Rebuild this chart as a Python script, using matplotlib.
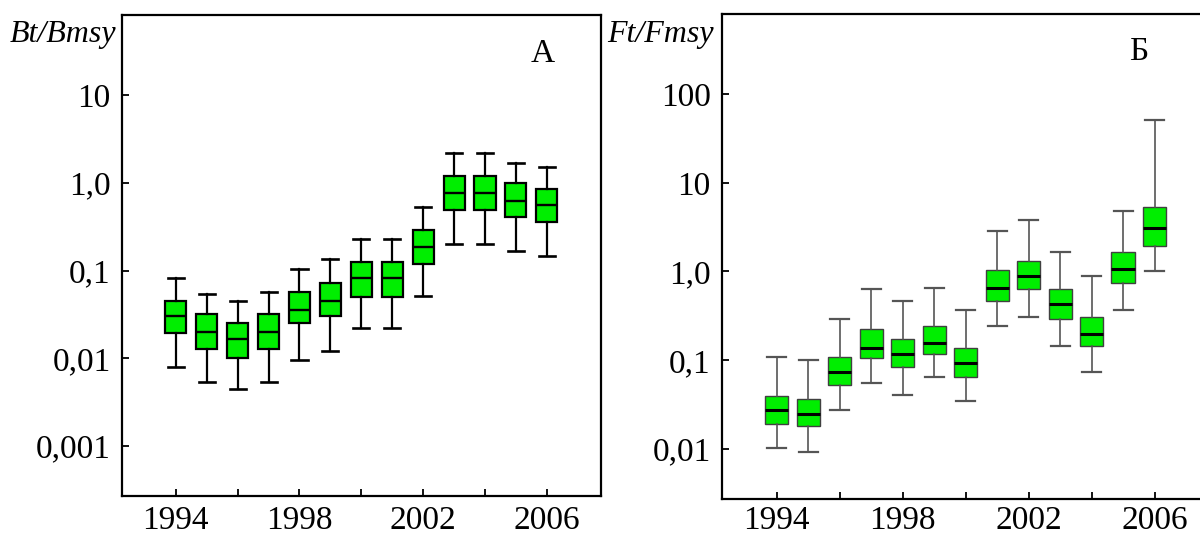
import matplotlib
matplotlib.use("Agg")
import matplotlib.pyplot as plt
from matplotlib.ticker import FixedLocator, FixedFormatter, NullLocator

plt.rcParams["font.family"] = ["Liberation Serif", "DejaVu Serif"]

years = [1994, 1995, 1996, 1997, 1998, 1999, 2000, 2001, 2002, 2003, 2004, 2005, 2006]
year_ticks = [1994, 1996, 1998, 2000, 2002, 2004, 2006]
year_labels = ["1994", "", "1998", "", "2002", "", "2006"]

# panel A: Bt/Bmsy
b_whislo = [0.008, 0.0053, 0.0045, 0.0053, 0.0096, 0.0122, 0.0223, 0.0223, 0.0515, 0.20, 0.20, 0.168, 0.147]
b_q1 = [0.0195, 0.0128, 0.010, 0.0128, 0.0254, 0.030, 0.050, 0.050, 0.119, 0.49, 0.49, 0.41, 0.36]
b_med = [0.030, 0.020, 0.0167, 0.020, 0.0357, 0.045, 0.083, 0.083, 0.187, 0.77, 0.77, 0.62, 0.56]
b_q3 = [0.045, 0.032, 0.0254, 0.032, 0.057, 0.072, 0.126, 0.126, 0.29, 1.2, 1.2, 1.0, 0.855]
b_whishi = [0.083, 0.054, 0.045, 0.057, 0.105, 0.136, 0.23, 0.23, 0.53, 2.2, 2.2, 1.69, 1.52]
b_ticks = [0.001, 0.01, 0.1, 1.0, 10]
b_tick_labels = ["0,001", "0,01", "0,1", "1,0", "10"]

# panel Б: Ft/Fmsy
f_whislo = [0.0103, 0.0093, 0.0278, 0.056, 0.041, 0.064, 0.035, 0.246, 0.31, 0.146, 0.0745, 0.372, 1.0]
f_q1 = [0.0193, 0.0183, 0.052, 0.105, 0.083, 0.119, 0.065, 0.47, 0.63, 0.295, 0.146, 0.75, 1.96]
f_med = [0.0278, 0.025, 0.0745, 0.139, 0.119, 0.158, 0.094, 0.66, 0.90, 0.425, 0.20, 1.08, 3.06]
f_q3 = [0.04, 0.037, 0.11, 0.222, 0.175, 0.246, 0.139, 1.05, 1.33, 0.63, 0.31, 1.68, 5.4]
f_whishi = [0.11, 0.10, 0.295, 0.63, 0.47, 0.66, 0.372, 2.83, 3.76, 1.68, 0.90, 4.75, 50.5]
f_ticks = [0.01, 0.1, 1.0, 10, 100]
f_tick_labels = ["0,01", "0,1", "1,0", "10", "100"]

GREEN = "#00ee00"


def make_stats(lo, q1, med, q3, hi):
    return [
        {"whislo": a, "q1": b, "med": c, "q3": d, "whishi": e, "fliers": []}
        for a, b, c, d, e in zip(lo, q1, med, q3, hi)
    ]


def style_axes(ax, ticks, labels, ylim, xpad):
    ax.set_yscale("log")
    ax.set_ylim(*ylim)
    ax.set_xlim(1992.25, 2007.75)
    ax.yaxis.set_major_locator(FixedLocator(ticks))
    ax.yaxis.set_major_formatter(FixedFormatter(labels))
    ax.yaxis.set_minor_locator(NullLocator())
    ax.xaxis.set_major_locator(FixedLocator(year_ticks))
    ax.xaxis.set_major_formatter(FixedFormatter(year_labels))
    ax.tick_params(direction="in", length=5, width=1.3, labelsize=24, pad=8)
    ax.tick_params(axis="x", pad=xpad)
    for sp in ax.spines.values():
        sp.set_linewidth(1.6)


fig = plt.figure(figsize=(12, 5.38), dpi=100)

# --- panel A
ax1 = fig.add_axes([0.1014, 0.078, 0.3994, 0.894])
ax1.bxp(
    make_stats(b_whislo, b_q1, b_med, b_q3, b_whishi),
    positions=years, widths=0.68, patch_artist=True, showfliers=False,
    boxprops=dict(facecolor=GREEN, edgecolor="black", linewidth=1.6),
    medianprops=dict(color="black", linewidth=1.7),
    whiskerprops=dict(color="black", linewidth=1.6),
    capprops=dict(color="black", linewidth=1.9),
    capwidths=0.52,
)
style_axes(ax1, b_ticks, b_tick_labels, (2.69e-4, 81.6), 7)
ax1.text(0.878, 0.92, "А", transform=ax1.transAxes, fontsize=24, ha="center", va="center")

# --- panel Б
ax2 = fig.add_axes([0.6014, 0.0725, 0.4067, 0.9015])
ax2.bxp(
    make_stats(f_whislo, f_q1, f_med, f_q3, f_whishi),
    positions=years, widths=0.74, patch_artist=True, showfliers=False,
    boxprops=dict(facecolor=GREEN, edgecolor="#404040", linewidth=1.0),
    medianprops=dict(color="black", linewidth=2.2),
    whiskerprops=dict(color="#555555", linewidth=1.2),
    capprops=dict(color="#555555", linewidth=1.6),
    capwidths=0.6,
)
style_axes(ax2, f_ticks, f_tick_labels, (0.00273, 798), 4.5)
ax2.text(0.855, 0.922, "Б", transform=ax2.transAxes, fontsize=24, ha="center", va="center")

fig.text(10 / 1200, 1 - 42 / 538, "Bt/Bmsy", fontsize=23, style="italic", ha="left", va="baseline")
fig.text(607 / 1200, 1 - 42 / 538, "Ft/Fmsy", fontsize=23, style="italic", ha="left", va="baseline")

fig.savefig("out.png", dpi=100)
